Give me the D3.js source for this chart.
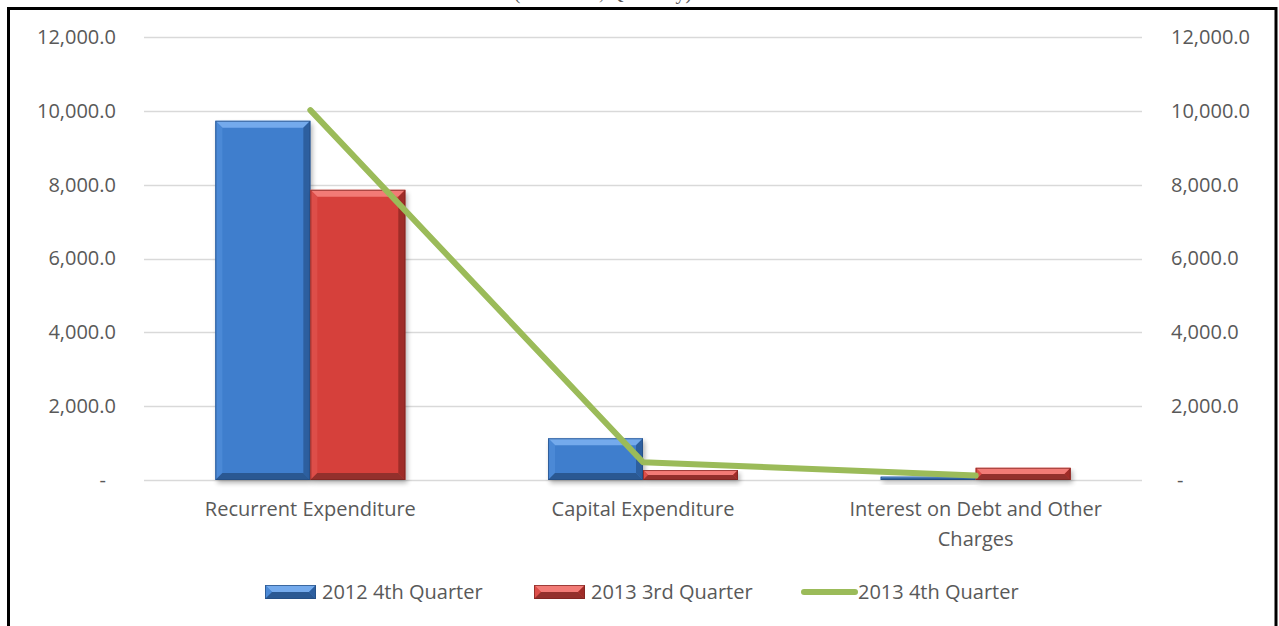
<!DOCTYPE html>
<html>
<head>
<meta charset="utf-8">
<script src="https://cdn.jsdelivr.net/npm/d3@7"></script>
<style>
  html, body { margin: 0; padding: 0; background: #fff; }
  svg { display: block; }
  text { font-family: "Open Sans", "Liberation Sans", sans-serif; fill: #595959; }
</style>
</head>
<body>
<svg id="chart" width="1279" height="626"></svg>
<script>
// Expenditure by category (₦ billion)
const categories = ["Recurrent Expenditure", "Capital Expenditure", "Interest on Debt and Other Charges"];
const categoryLines = [["Recurrent Expenditure"], ["Capital Expenditure"], ["Interest on Debt and Other", "Charges"]];
const barSeries = ["2012 4th Quarter", "2013 3rd Quarter"];
const q4_2012 = [9730, 1130, 90];
const q3_2013 = [7860, 270, 330];
const lineSeries = "2013 4th Quarter";
const q4_2013 = [10020, 480, 120];
const yTicks = [0, 2000, 4000, 6000, 8000, 10000, 12000];

const svg = d3.select("#chart");
const W = 1279, H = 626;

// Bevel palettes for the two bar series
const palettes = [
  { face: "#3F7ECD", top: "#74AAEC", left: "#4B89D6", right: "#2D5F9F", bottom: "#2A5892", edge: "#234C80" },
  { face: "#D6403B", top: "#F27B76", left: "#DD4E49", right: "#9F2C28", bottom: "#93302C", edge: "#7A2320" }
];
const lineColor = "#9BBB59";

const defs = svg.append("defs");
const shadow = defs.append("filter").attr("id", "shadow")
  .attr("x", "-20%").attr("y", "-20%").attr("width", "140%").attr("height", "160%");
shadow.append("feGaussianBlur").attr("stdDeviation", 2.5);

// Scales
const x0 = d3.scaleBand().domain(categories).range([144, 1142]).paddingInner(0).paddingOuter(0);
const groupW = x0.bandwidth() * 0.571;
const x1 = d3.scaleBand().domain(barSeries).range([0, groupW]).padding(0);
const y = d3.scaleLinear().domain([0, 12000]).range([480, 37]);
const yRight = d3.scaleLinear().domain([0, 12000]).range([480, 37]);

const fmt = d => d === 0 ? "-" : d3.format(",.1f")(d);

// Gridlines
svg.append("g").selectAll("line").data(yTicks).join("line")
  .attr("x1", 144).attr("x2", 1142)
  .attr("y1", d => Math.round(y(d)) + 0.5).attr("y2", d => Math.round(y(d)) + 0.5)
  .attr("stroke", "#D9D9D9").attr("stroke-width", 1.5);

// Left axis
const leftAxis = svg.append("g").attr("transform", "translate(116,0)")
  .call(d3.axisLeft(y).tickValues(yTicks).tickFormat(fmt).tickSize(0).tickPadding(0));
leftAxis.select(".domain").remove();
leftAxis.selectAll("text").attr("font-size", 20).attr("fill", "#595959")
  .attr("dx", d => d === 0 ? -10 : 0)
  .style("font-family", "'Open Sans', sans-serif");

// Right axis
const rightAxis = svg.append("g").attr("transform", "translate(1171,0)")
  .call(d3.axisRight(yRight).tickValues(yTicks).tickFormat(fmt).tickSize(0).tickPadding(0));
rightAxis.select(".domain").remove();
rightAxis.selectAll("text").attr("font-size", 20).attr("fill", "#595959")
  .attr("dx", d => d === 0 ? 6 : 0)
  .style("font-family", "'Open Sans', sans-serif");

// Bevelled bar drawing
function bevelBar(g, x, yTop, w, h, pal, withShadow) {
  const b = Math.min(7, h / 2, w / 2);
  if (withShadow) {
    g.append("rect").attr("x", x + 2).attr("y", yTop + 3).attr("width", w).attr("height", h)
      .attr("fill", "#000").attr("opacity", 0.3).attr("filter", "url(#shadow)");
  }
  g.append("rect").attr("x", x).attr("y", yTop).attr("width", w).attr("height", h).attr("fill", pal.face);
  const pts = a => a.map(p => p.join(",")).join(" ");
  g.append("polygon").attr("points", pts([[x, yTop], [x + w, yTop], [x + w - b, yTop + b], [x + b, yTop + b]])).attr("fill", pal.top);
  g.append("polygon").attr("points", pts([[x, yTop], [x + b, yTop + b], [x + b, yTop + h - b], [x, yTop + h]])).attr("fill", pal.left);
  g.append("polygon").attr("points", pts([[x + w, yTop], [x + w, yTop + h], [x + w - b, yTop + h - b], [x + w - b, yTop + b]])).attr("fill", pal.right);
  g.append("polygon").attr("points", pts([[x, yTop + h], [x + b, yTop + h - b], [x + w - b, yTop + h - b], [x + w, yTop + h]])).attr("fill", pal.bottom);
  g.append("rect").attr("x", x + 0.5).attr("y", yTop + 0.5).attr("width", Math.max(0, w - 1)).attr("height", Math.max(0, h - 1))
    .attr("fill", "none").attr("stroke", pal.edge).attr("stroke-width", 1).attr("opacity", 0.7);
}

const seriesValues = [q4_2012, q3_2013];
const barsG = svg.append("g");
categories.forEach((c, i) => {
  const gx = x0(c) + (x0.bandwidth() - groupW) / 2;
  barSeries.forEach((s, j) => {
    const v = seriesValues[j][i];
    const yTop = y(v);
    bevelBar(barsG.append("g"), gx + x1(s), yTop, x1.bandwidth(), y(0) - yTop, palettes[j], true);
  });
});

// Line series on the secondary axis
const line = d3.line()
  .x((d, i) => x0(categories[i]) + x0.bandwidth() / 2)
  .y(d => yRight(d));
svg.append("path").datum(q4_2013)
  .attr("d", line)
  .attr("fill", "none").attr("stroke", lineColor).attr("stroke-width", 6)
  .attr("stroke-linecap", "round").attr("stroke-linejoin", "round");

// Category labels
const catG = svg.append("g");
categories.forEach((c, i) => {
  const t = catG.append("text")
    .attr("x", x0(c) + x0.bandwidth() / 2)
    .attr("y", 516)
    .attr("text-anchor", "middle").attr("font-size", 20);
  categoryLines[i].forEach((ln, k) => {
    t.append("tspan").attr("x", x0(c) + x0.bandwidth() / 2).attr("dy", k === 0 ? 0 : 30).text(ln);
  });
});

// Legend
const legend = svg.append("g");
const legendItems = [
  { name: barSeries[0], type: "bar", pal: palettes[0], x: 265 },
  { name: barSeries[1], type: "bar", pal: palettes[1], x: 534 },
  { name: lineSeries, type: "line", x: 801 }
];
legendItems.forEach(it => {
  const g = legend.append("g");
  if (it.type === "bar") {
    bevelBar(g, it.x, 585, 51, 14, it.pal, false);
  } else {
    g.append("line").attr("x1", it.x + 3).attr("x2", it.x + 54)
      .attr("y1", 592).attr("y2", 592)
      .attr("stroke", lineColor).attr("stroke-width", 6).attr("stroke-linecap", "round");
  }
  g.append("text").attr("x", it.x + 57).attr("y", 599).attr("font-size", 20).text(it.name);
});

// Title line above the frame; only its lowest strokes fall inside the page
svg.append("text").attr("x", 603).attr("y", -1)
  .attr("text-anchor", "middle").attr("font-size", 20)
  .style("font-family", "'Liberation Serif', serif").attr("fill", "#000")
  .text("(N' Billion, Quarterly)");

// Frame
svg.append("path")
  .attr("d", `M8.5,${H + 5} L8.5,8.5 L1276,8.5 L1276,${H + 5}`)
  .attr("fill", "none").attr("stroke", "#000").attr("stroke-width", 3);
</script>
</body>
</html>
